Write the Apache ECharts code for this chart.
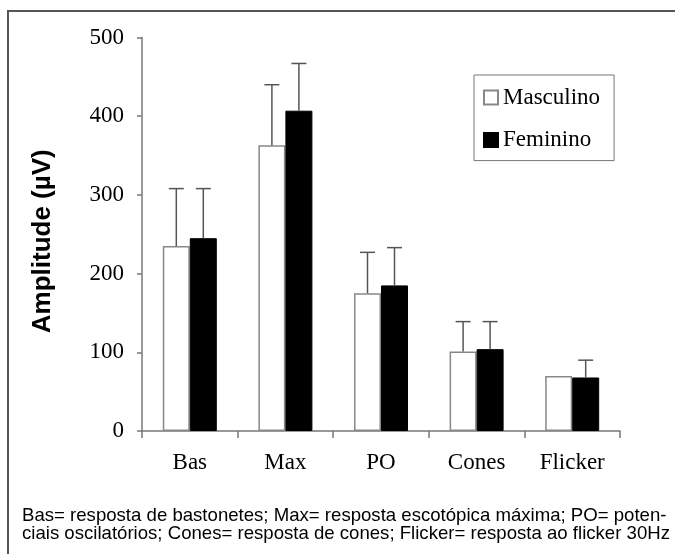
<!DOCTYPE html>
<html>
<head>
<meta charset="utf-8">
<script src="https://cdn.jsdelivr.net/npm/echarts@6/dist/echarts.min.js"></script>
<style>
html,body{margin:0;padding:0;background:#fff;}
#chart{width:675px;height:554px;}
</style>
</head>
<body>
<div id="chart"></div>
<script>
// ---- data ----
const categories = ['Bas', 'Max', 'PO', 'Cones', 'Flicker'];
const seriesNames = ['Masculino', 'Feminino'];
const masculino = [235, 363, 175, 101, 70];
const feminino = [245, 407, 185, 104, 68];
const masculinoSD = [73, 77, 52, 38, null];
const femininoSD = [63, 60, 48, 35, 22];
const yTicks = [0, 100, 200, 300, 400, 500];
const yAxisTitle = 'Amplitude (µV)';
const footLine1 = 'Bas= resposta de bastonetes; Max= resposta escotópica máxima; PO= poten-';
const footLine2 = 'ciais oscilatórios; Cones= resposta de cones; Flicker= resposta ao flicker 30Hz';

const SERIF = '"Liberation Serif", "Times New Roman", Times, serif';
const SANS = '"Liberation Sans", Arial, Helvetica, sans-serif';
const BAR_W = 27;

function errData(means, sds) {
  return means.map((m, i) => [i, m, sds[i] == null ? '-' : sds[i]]);
}
function errRender(offset) {
  return function (params, api) {
    const sd = api.value(2);
    if (sd === '-' || sd == null || isNaN(sd)) return null;
    const idx = api.value(0);
    const mean = api.value(1);
    const base = api.coord([idx, mean]);
    const top = api.coord([idx, mean + sd]);
    const cx = base[0] + offset;
    const style = { stroke: '#555', lineWidth: 1.5 };
    return {
      type: 'group',
      children: [
        { type: 'line', shape: { x1: cx, y1: base[1], x2: cx, y2: top[1] }, style: style },
        { type: 'line', shape: { x1: cx - 7.5, y1: top[1], x2: cx + 7.5, y2: top[1] }, style: style }
      ]
    };
  };
}

const chart = echarts.init(document.getElementById('chart'), null, { renderer: 'canvas' });
chart.setOption({
  animation: false,
  backgroundColor: '#fff',
  grid: { left: 142, right: 55, top: 37.5, bottom: 123 },
  legend: {
    orient: 'vertical',
    left: 474, top: 75,
    padding: [11, 14, 9, 9],
    itemGap: 19.6,
    itemWidth: 14, itemHeight: 14,
    icon: 'rect',
    borderColor: '#777', borderWidth: 1,
    selectedMode: false,
    data: seriesNames,
    textStyle: { fontFamily: SERIF, fontSize: 23, color: '#000' }
  },
  xAxis: {
    type: 'category',
    data: categories,
    boundaryGap: true,
    axisLine: { lineStyle: { color: '#777', width: 1.5 } },
    axisTick: { show: true, length: 7, lineStyle: { color: '#777', width: 1.5 } },
    axisLabel: { fontFamily: SERIF, fontSize: 23, color: '#000', margin: 20 },
    splitLine: { show: false }
  },
  yAxis: {
    type: 'value',
    min: yTicks[0], max: yTicks[yTicks.length - 1], interval: 100,
    name: yAxisTitle,
    nameLocation: 'middle',
    nameRotate: 90,
    nameGap: 86,
    nameTextStyle: { fontFamily: SANS, fontSize: 26, fontWeight: 'bold', color: '#000', padding: [0, 14, 0, 0] },
    axisLine: { show: true, lineStyle: { color: '#777', width: 1.5 } },
    axisTick: { show: true, length: 5, lineStyle: { color: '#777', width: 1.5 } },
    axisLabel: { fontFamily: SERIF, fontSize: 23, color: '#000', margin: 18 },
    splitLine: { show: false }
  },
  series: [
    {
      name: seriesNames[0], type: 'bar', data: masculino,
      barWidth: BAR_W, barGap: '0%',
      itemStyle: { color: '#fff', borderColor: '#888', borderWidth: 1.5 }
    },
    {
      name: seriesNames[1], type: 'bar', data: feminino,
      barWidth: BAR_W, barGap: '0%',
      itemStyle: { color: '#000', borderColor: '#000', borderWidth: 1 }
    },
    {
      type: 'custom', name: 'errM', data: errData(masculino, masculinoSD),
      renderItem: errRender(-BAR_W / 2), encode: { x: 0, y: 1 }, z: 5, silent: true
    },
    {
      type: 'custom', name: 'errF', data: errData(feminino, femininoSD),
      renderItem: errRender(BAR_W / 2), encode: { x: 0, y: 1 }, z: 5, silent: true
    }
  ],
  graphic: [
    { type: 'rect', shape: { x: 8, y: 11, width: 800, height: 800 }, style: { fill: 'none', stroke: '#555', lineWidth: 2 }, z: -1 },
    { type: 'text', left: 22, top: 506, style: { text: footLine1, fontFamily: SANS, fontSize: 18.6, fill: '#000' } },
    { type: 'text', left: 22, top: 524, style: { text: footLine2, fontFamily: SANS, fontSize: 18.6, fill: '#000' } }
  ]
});
</script>
</body>
</html>
